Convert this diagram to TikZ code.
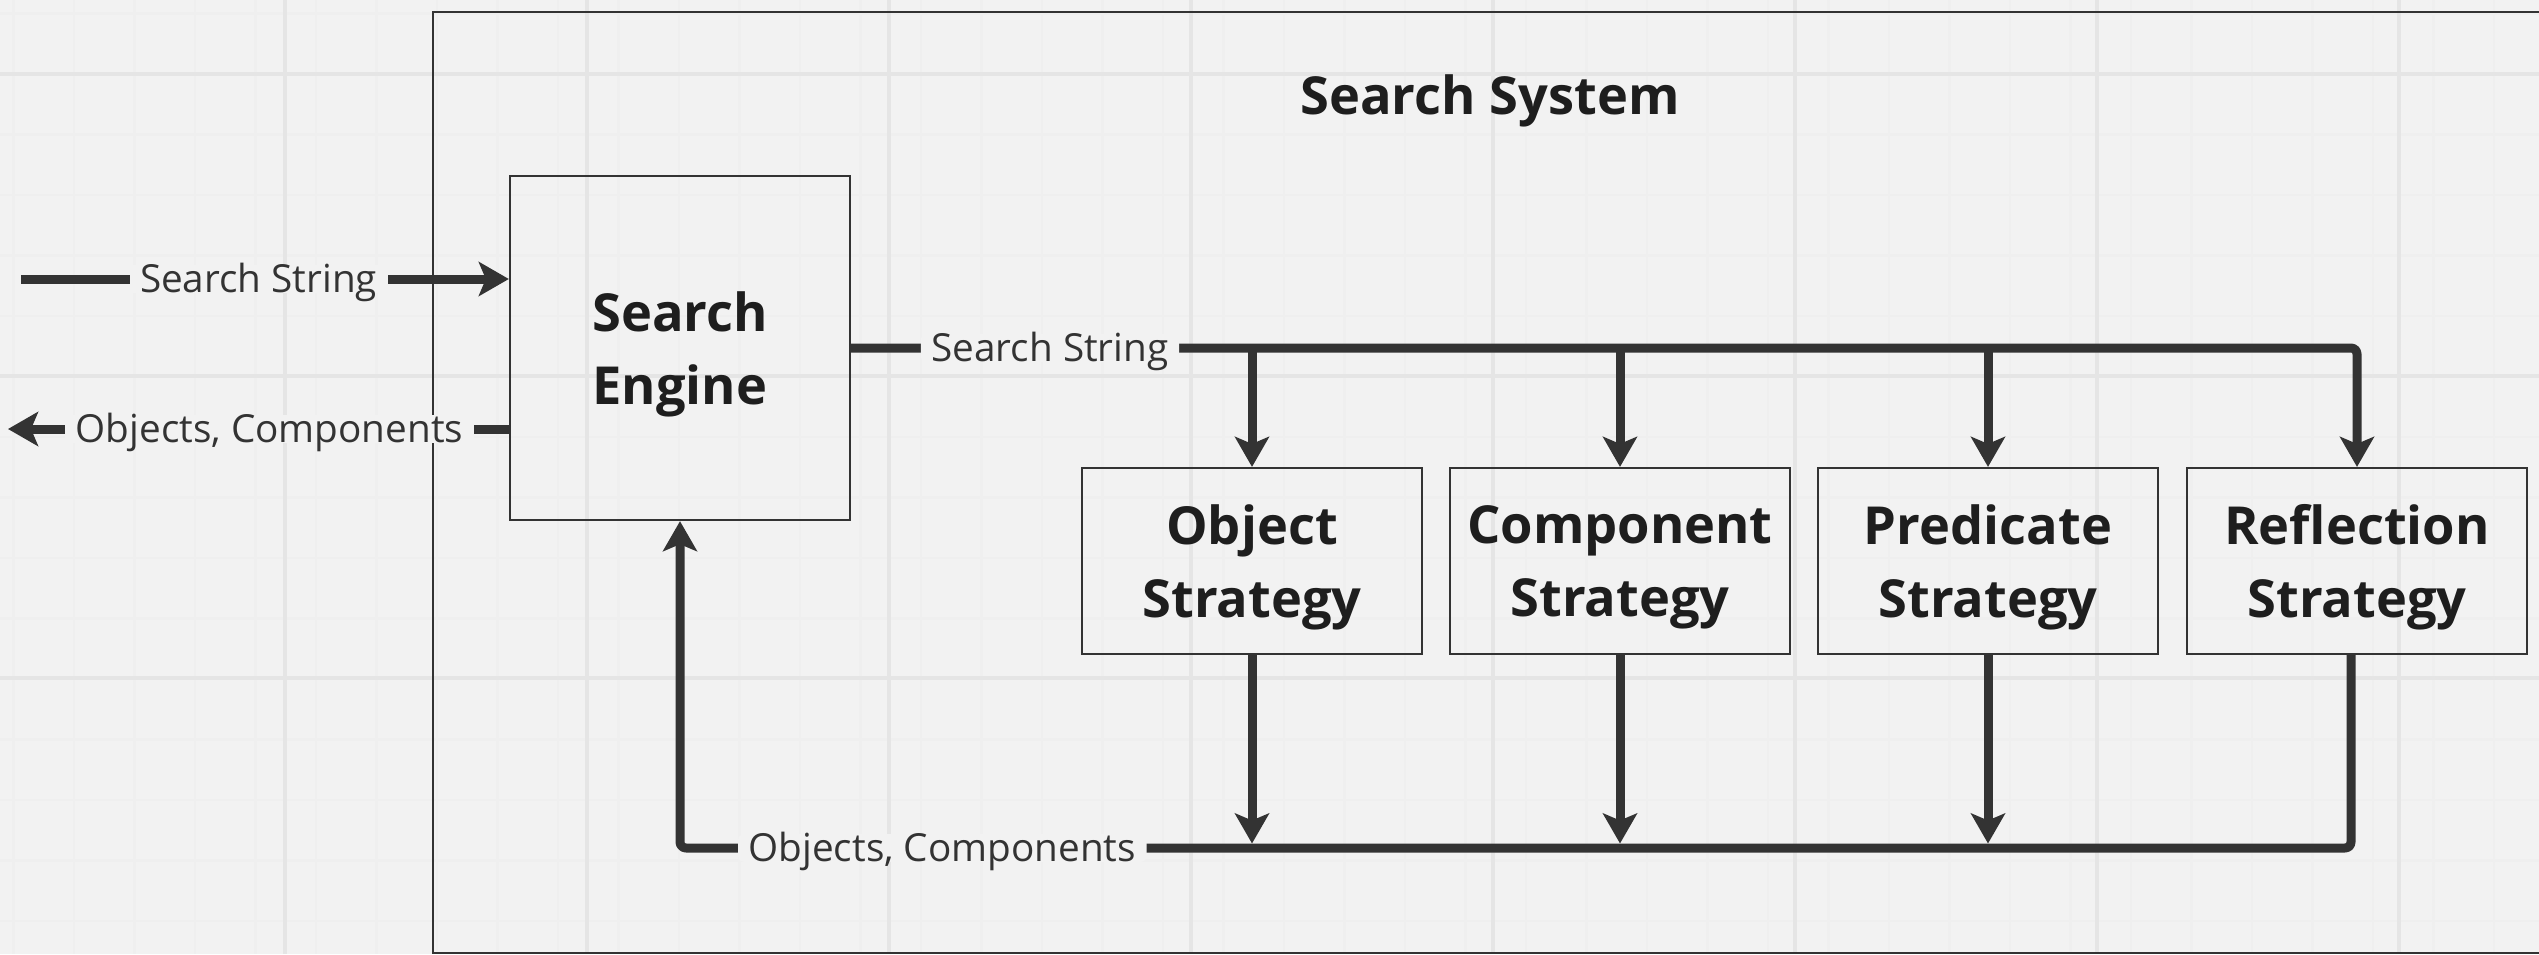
\documentclass[tikz,border=0pt]{standalone}
\usepackage{fontspec}
\setmainfont{Open Sans}
\usetikzlibrary{arrows.meta}

\definecolor{canvas}{HTML}{F2F2F2}
\definecolor{gridfine}{HTML}{EFEFEF}
\definecolor{gridmajor}{HTML}{E5E5E5}
\definecolor{ink}{HTML}{333333}
\definecolor{textink}{HTML}{1E1E1E}

\tikzset{
  flow/.style={draw=ink, line width=0.09cm, line join=round,
    -{Stealth[length=0.30cm, width=0.34cm, inset=0.07cm]}},
  block/.style={draw=ink, line width=0.6pt, fill=none, text=textink,
    font=\bfseries\fontsize{14.9}{20.8}\selectfont, align=center,
    inner sep=0pt, text depth=0pt},
  lbl/.style={fill=canvas, text=ink, font=\fontsize{11}{13}\selectfont,
    inner xsep=3pt, inner ysep=0pt, text height=7.9pt, text depth=0pt},
  frame/.style={draw=ink, line width=0.6pt},
}

\begin{document}
\begin{tikzpicture}[x=0.01cm, y=-0.01cm]
  \useasboundingbox (0,0) rectangle (2539,954);
  \fill[canvas] (0,0) rectangle (2539,954);

  % background grid: fine cells and major cells
  \foreach \gx in {13.5,74,...,2539} \draw[gridfine, line width=0.8pt] (\gx,0) -- (\gx,954);
  \foreach \gy in {13.5,74,...,954} \draw[gridfine, line width=0.8pt] (0,\gy) -- (2539,\gy);
  \foreach \gx in {285,587,...,2539} \draw[gridmajor, line width=1.2pt] (\gx,0) -- (\gx,954);
  \foreach \gy in {74,376,678} \draw[gridmajor, line width=1.2pt] (0,\gy) -- (2539,\gy);

  % system container
  \draw[frame] (2545,12) -- (433,12) -- (433,953) -- (2545,953);
  \node[anchor=base, text=textink, font=\bfseries\fontsize{14.9}{18}\selectfont]
    (title) at (1490,114) {Search System};

  % components
  \node[block, minimum width=3.40cm, minimum height=3.44cm] (se)   at (680,348)  {Search\\Engine};
  \node[block, minimum width=3.40cm, minimum height=1.86cm] (obj)  at (1252,561) {Object\\Strategy};
  \node[block, minimum width=3.40cm, minimum height=1.86cm] (comp) at (1620,561) {Component\\Strategy};
  \node[block, minimum width=3.40cm, minimum height=1.86cm] (pred) at (1988,561) {Predicate\\Strategy};
  \node[block, minimum width=3.40cm, minimum height=1.86cm] (refl) at (2357,561) {Reflection\\Strategy};

  % external ends and bus levels
  \coordinate (inStart) at (21,279);
  \coordinate (outEnd)  at (8,429);
  \coordinate (resBus)  at (680,848);
  \coordinate (reflOut) at (2351,654);

  % request entering and result leaving the engine
  \draw[flow] (inStart) -- node[lbl, pos=0.487] (lin) {Search String} (se.west |- inStart);
  \draw[flow] (se.west |- outEnd) -- node[lbl, pos=0.478] (lout) {Objects, Components} (outEnd);

  % search string distributed to every strategy
  \draw[flow, rounded corners=0.06cm] (se.east) -- node[lbl, pos=0.132] (lreq) {Search String}
    (refl.north |- se.east) -- (refl.north);
  \foreach \s in {obj,comp,pred}
    \draw[flow] (\s.north |- se.east) -- (\s.north);

  % results collected back to the engine
  \draw[flow, rounded corners=0.06cm] (reflOut) -- (reflOut |- resBus)
    -- node[lbl, pos=0.843] (lres) {Objects, Components} (resBus) -- (se.south);
  \foreach \s in {obj,comp,pred}
    \draw[flow, shorten >=0.045cm] (\s.south) -- (\s.south |- resBus);
\end{tikzpicture}
\end{document}
